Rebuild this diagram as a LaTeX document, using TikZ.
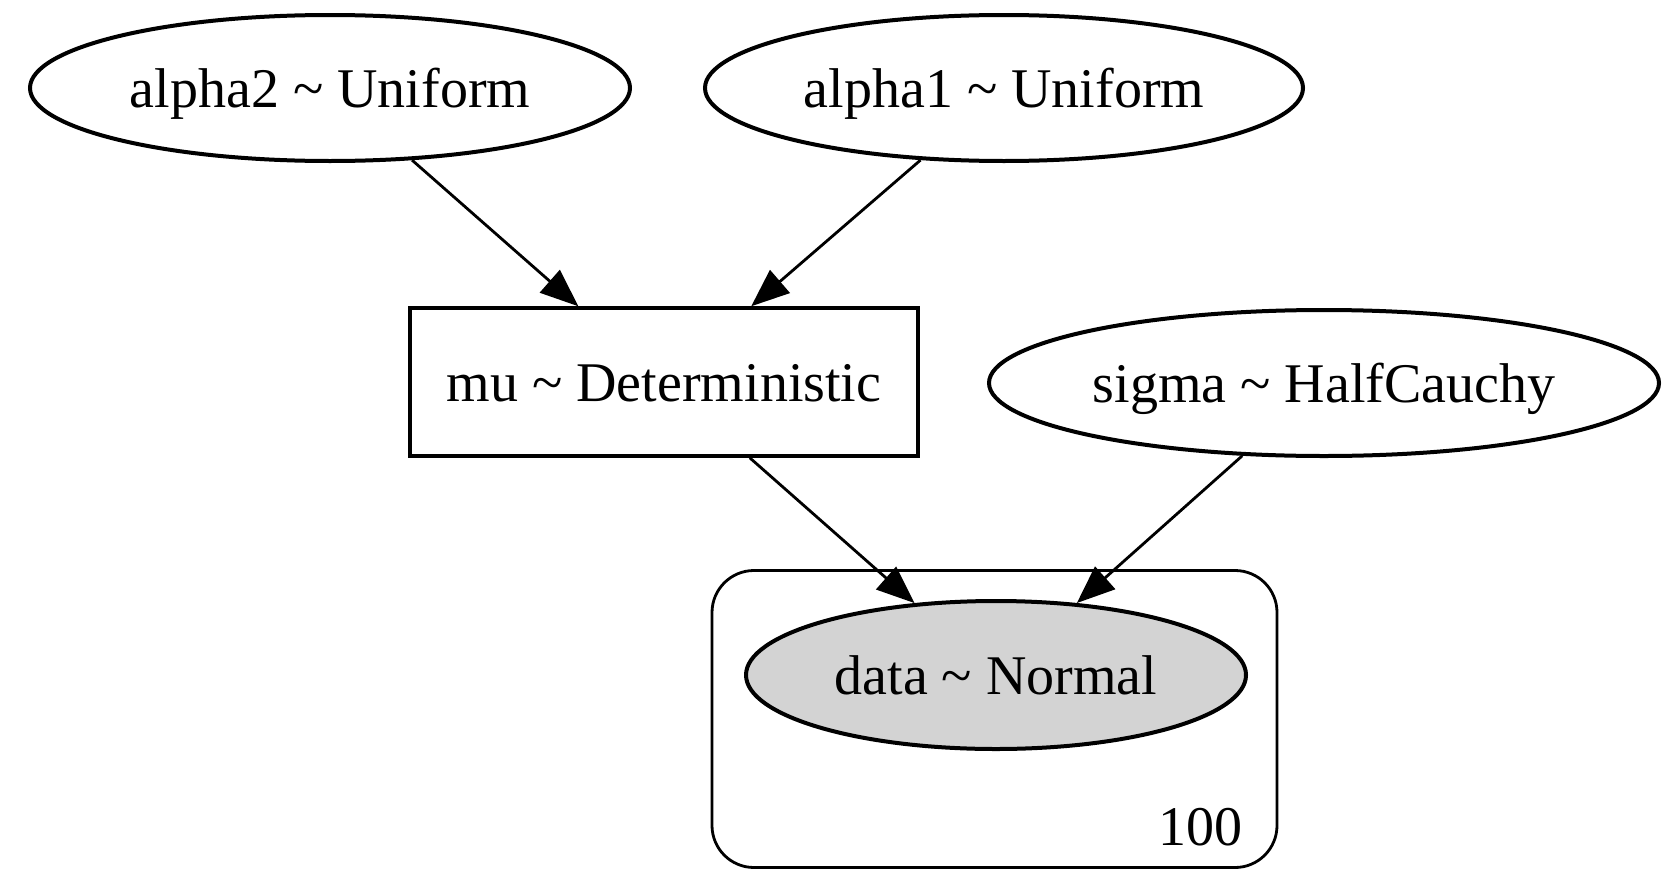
\documentclass[tikz,border=0pt]{standalone}
\usepackage{fontspec}
\setmainfont{Liberation Serif}
\usetikzlibrary{shapes.geometric,arrows.meta}
\definecolor{obsgray}{RGB}{211,211,211}
\begin{document}
\begin{tikzpicture}[x=1pt,y=-1pt,
  every node/.style={font=\fontsize{56}{67}\selectfont, inner sep=0pt, text height=38pt, text depth=0pt},
  rv/.style={draw, ellipse, line width=4pt, minimum height=146pt},
  detbox/.style={draw, rectangle, line width=3.5pt, minimum width=508pt, minimum height=148pt},
  platebox/.style={draw, rectangle, rounded corners=42pt, line width=2.8pt, minimum width=565pt, minimum height=297pt},
  edgearrow/.style={-{Triangle[length=38pt,width=30pt]}, line width=2.8pt}]
\fill[white] (0,0) rectangle (1662,870);
\useasboundingbox (0,0) rectangle (1662,870);

\node[platebox] (plate) at (994.5,719) {};
\node[anchor=east] (count) at (1243,826) {100};

\node[rv, minimum width=600pt] (alpha2) at (330,88) {alpha2 \textasciitilde{} Uniform};
\node[rv, minimum width=598pt] (alpha1) at (1004,88) {alpha1 \textasciitilde{} Uniform};
\node[detbox] (mu) at (664,382) {mu \textasciitilde{} Deterministic};
\node[rv, minimum width=670pt] (sigma) at (1324,383) {sigma \textasciitilde{} HalfCauchy};
\node[rv, fill=obsgray, minimum width=500pt, minimum height=148pt] (data) at (996,675) {data \textasciitilde{} Normal};

\draw[edgearrow] (alpha2) -- (mu);
\draw[edgearrow] (alpha1) -- (mu);
\draw[edgearrow] (mu) -- (data);
\draw[edgearrow] (sigma) -- (data);
\end{tikzpicture}
\end{document}
